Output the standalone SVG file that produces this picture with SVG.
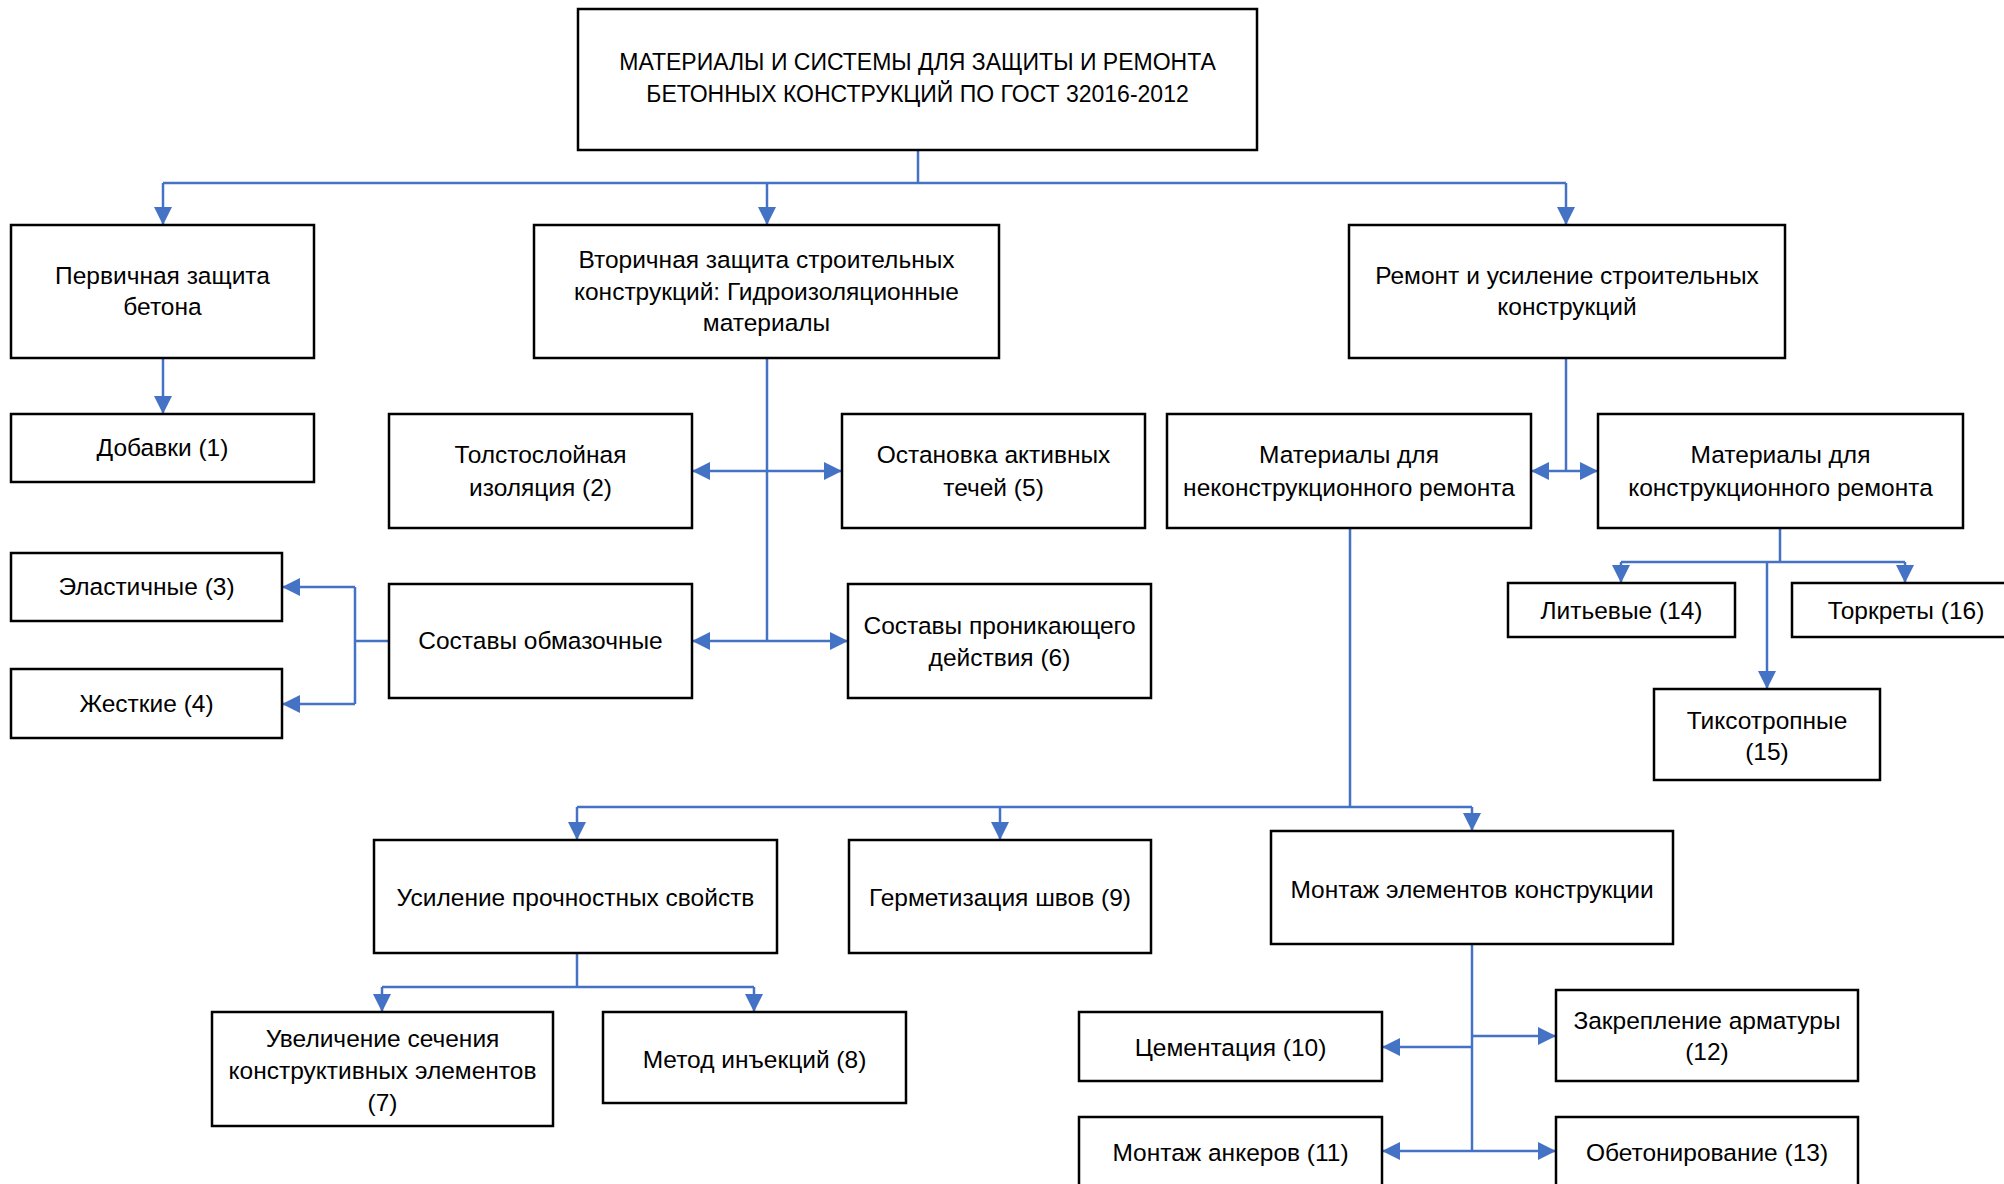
<svg xmlns="http://www.w3.org/2000/svg" width="2004" height="1184" viewBox="0 0 2004 1184">
<style>
.box{fill:#fff;stroke:#000;stroke-width:2.5}
.t{font-family:"Liberation Sans",Arial,sans-serif;font-size:24.5px;fill:#000;text-anchor:middle;dominant-baseline:central}
.u{font-size:23px}
.c{fill:none;stroke:#4472C4;stroke-width:2.5}
.a{marker-end:url(#ah)}
.d{marker-start:url(#ah);marker-end:url(#ah)}
</style>
<defs>
<marker id="ah" markerUnits="userSpaceOnUse" viewBox="0 0 18 18" markerWidth="18" markerHeight="18" refX="18" refY="9" orient="auto-start-reverse">
<path d="M0,0 L18,9 L0,18 z" fill="#4472C4"/>
</marker>
</defs>
<rect width="2004" height="1184" fill="#fff"/>
<g id="connectors">
<path class="c" d="M918,150 V183 M163,183 H1566"/>
<path class="c a" d="M163,183 V225"/>
<path class="c a" d="M767,183 V225"/>
<path class="c a" d="M1566,183 V225"/>
<path class="c a" d="M163,358 V414"/>
<path class="c" d="M767,358 V641"/>
<path class="c d" d="M692,471 H842"/>
<path class="c d" d="M692,641 H848"/>
<path class="c" d="M389,641 H355 M355,587 V704"/>
<path class="c a" d="M355,587 H282"/>
<path class="c a" d="M355,704 H282"/>
<path class="c" d="M1566,358 V471"/>
<path class="c d" d="M1531,471 H1598"/>
<path class="c" d="M1780,528 V562 M1621,562 H1905"/>
<path class="c a" d="M1621,562 V583"/>
<path class="c a" d="M1905,562 V583"/>
<path class="c a" d="M1767,562 V689"/>
<path class="c" d="M1350,528 V807 M577,807 H1472"/>
<path class="c a" d="M577,807 V840"/>
<path class="c a" d="M1000,807 V840"/>
<path class="c a" d="M1472,807 V831"/>
<path class="c" d="M577,953 V987 M382,987 H754"/>
<path class="c a" d="M382,987 V1012"/>
<path class="c a" d="M754,987 V1012"/>
<path class="c" d="M1472,944 V1151"/>
<path class="c a" d="M1472,1047 H1382"/>
<path class="c a" d="M1472,1036 H1556"/>
<path class="c d" d="M1382,1151 H1556"/>
</g>
<g id="n0"><rect class="box" x="578" y="9" width="679" height="141"/>
<text class="t u" x="917.5" y="62">МАТЕРИАЛЫ И СИСТЕМЫ ДЛЯ ЗАЩИТЫ И РЕМОНТА</text>
<text class="t u" x="917.5" y="94">БЕТОННЫХ КОНСТРУКЦИЙ ПО ГОСТ 32016-2012</text></g>
<g id="n-primary"><rect class="box" x="11" y="225" width="303" height="133"/>
<text class="t" x="162.5" y="275">Первичная защита</text>
<text class="t" x="162.5" y="306">бетона</text></g>
<g id="n-secondary"><rect class="box" x="534" y="225" width="465" height="133"/>
<text class="t" x="766.5" y="259">Вторичная защита строительных</text>
<text class="t" x="766.5" y="291">конструкций: Гидроизоляционные</text>
<text class="t" x="766.5" y="322">материалы</text></g>
<g id="n-repair"><rect class="box" x="1349" y="225" width="436" height="133"/>
<text class="t" x="1567" y="275">Ремонт и усиление строительных</text>
<text class="t" x="1567" y="306">конструкций</text></g>
<g id="n1"><rect class="box" x="11" y="414" width="303" height="68"/>
<text class="t" x="162.5" y="447">Добавки (1)</text></g>
<g id="n2"><rect class="box" x="389" y="414" width="303" height="114"/>
<text class="t" x="540.5" y="454">Толстослойная</text>
<text class="t" x="540.5" y="487">изоляция (2)</text></g>
<g id="n5"><rect class="box" x="842" y="414" width="303" height="114"/>
<text class="t" x="993.5" y="454">Остановка активных</text>
<text class="t" x="993.5" y="487">течей (5)</text></g>
<g id="n-nonstruct"><rect class="box" x="1167" y="414" width="364" height="114"/>
<text class="t" x="1349" y="454">Материалы для</text>
<text class="t" x="1349" y="487">неконструкционного ремонта</text></g>
<g id="n-struct"><rect class="box" x="1598" y="414" width="365" height="114"/>
<text class="t" x="1780.5" y="454">Материалы для</text>
<text class="t" x="1780.5" y="487">конструкционного ремонта</text></g>
<g id="n3"><rect class="box" x="11" y="553" width="271" height="68"/>
<text class="t" x="146.5" y="586">Эластичные (3)</text></g>
<g id="n4"><rect class="box" x="11" y="669" width="271" height="69"/>
<text class="t" x="146.5" y="703">Жесткие (4)</text></g>
<g id="n-coat"><rect class="box" x="389" y="584" width="303" height="114"/>
<text class="t" x="540.5" y="640">Составы обмазочные</text></g>
<g id="n6"><rect class="box" x="848" y="584" width="303" height="114"/>
<text class="t" x="999.5" y="625">Составы проникающего</text>
<text class="t" x="999.5" y="657">действия (6)</text></g>
<g id="n14"><rect class="box" x="1508" y="583" width="227" height="54"/>
<text class="t" x="1621.5" y="610">Литьевые (14)</text></g>
<g id="n16"><rect class="box" x="1792" y="583" width="228" height="54"/>
<text class="t" x="1906" y="610">Торкреты (16)</text></g>
<g id="n15"><rect class="box" x="1654" y="689" width="226" height="91"/>
<text class="t" x="1767" y="720">Тиксотропные</text>
<text class="t" x="1767" y="751">(15)</text></g>
<g id="n-strength"><rect class="box" x="374" y="840" width="403" height="113"/>
<text class="t" x="575.5" y="897">Усиление прочностных свойств</text></g>
<g id="n9"><rect class="box" x="849" y="840" width="302" height="113"/>
<text class="t" x="1000" y="897">Герметизация швов (9)</text></g>
<g id="n-mount"><rect class="box" x="1271" y="831" width="402" height="113"/>
<text class="t" x="1472" y="889">Монтаж элементов конструкции</text></g>
<g id="n7"><rect class="box" x="212" y="1012" width="341" height="114"/>
<text class="t" x="382.5" y="1038">Увеличение сечения</text>
<text class="t" x="382.5" y="1070">конструктивных элементов</text>
<text class="t" x="382.5" y="1102">(7)</text></g>
<g id="n8"><rect class="box" x="603" y="1012" width="303" height="91"/>
<text class="t" x="754.5" y="1059">Метод инъекций (8)</text></g>
<g id="n10"><rect class="box" x="1079" y="1012" width="303" height="69"/>
<text class="t" x="1230.5" y="1047">Цементация (10)</text></g>
<g id="n12"><rect class="box" x="1556" y="990" width="302" height="91"/>
<text class="t" x="1707" y="1020">Закрепление арматуры</text>
<text class="t" x="1707" y="1051">(12)</text></g>
<g id="n11"><rect class="box" x="1079" y="1117" width="303" height="75"/>
<text class="t" x="1230.5" y="1152">Монтаж анкеров (11)</text></g>
<g id="n13"><rect class="box" x="1556" y="1117" width="302" height="75"/>
<text class="t" x="1707" y="1152">Обетонирование (13)</text></g>
</svg>
